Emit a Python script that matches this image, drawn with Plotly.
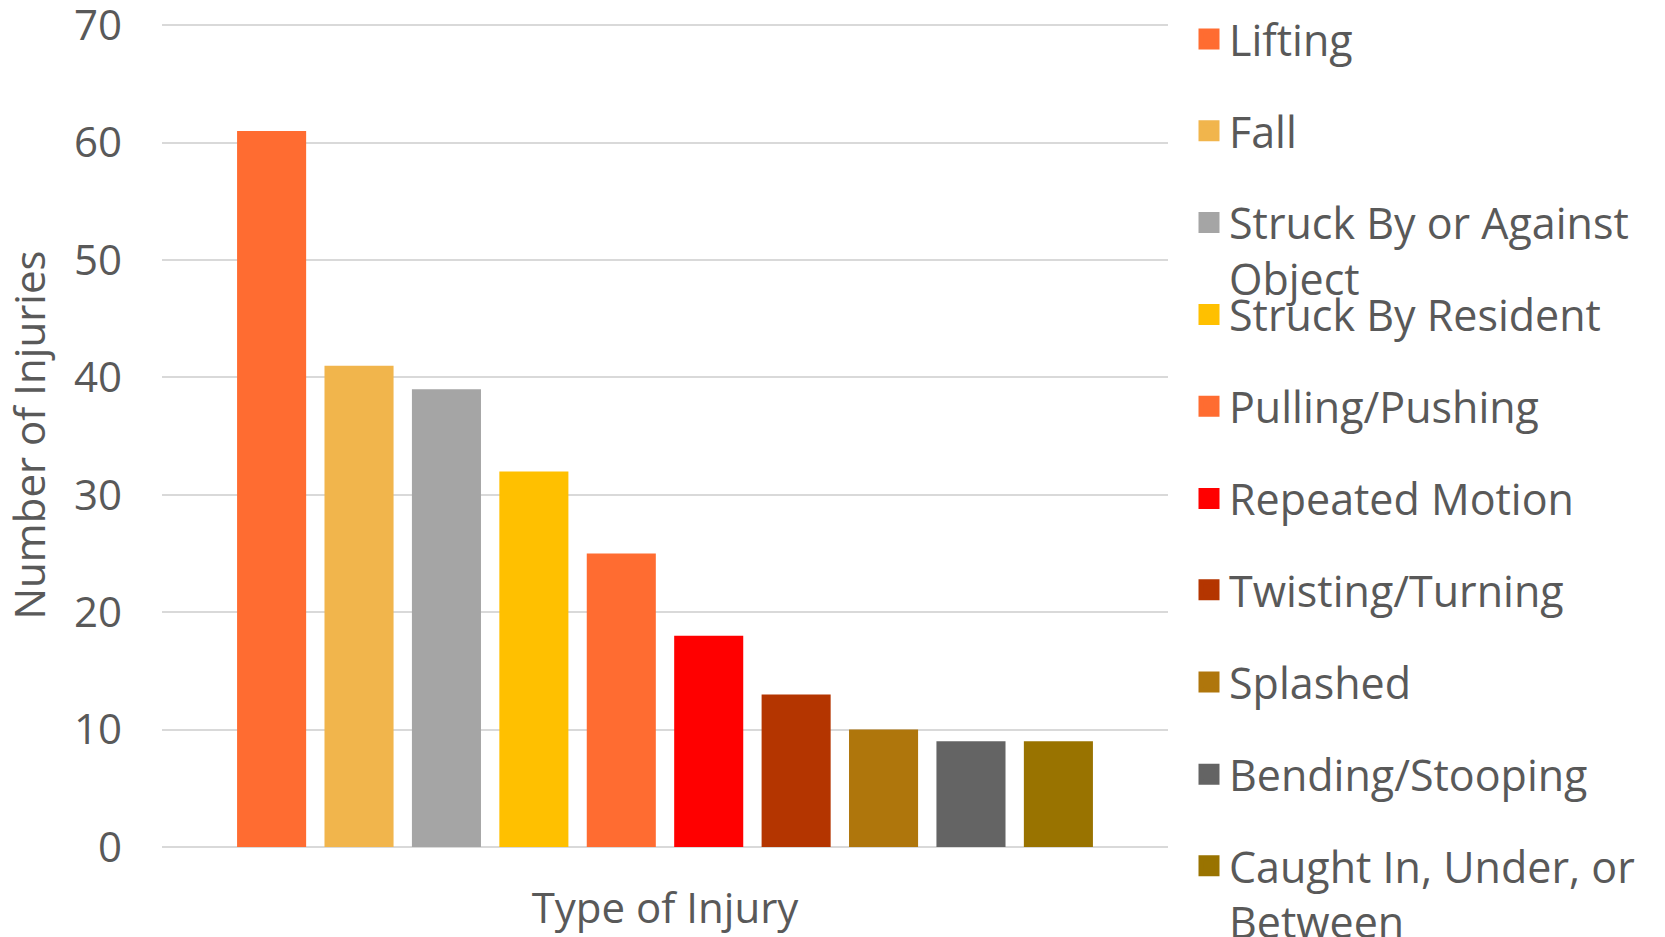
import plotly.graph_objects as go

categories = ["Lifting", "Fall", "Struck By or Against Object", "Struck By Resident",
              "Pulling/Pushing", "Repeated Motion", "Twisting/Turning", "Splashed",
              "Bending/Stooping", "Caught In, Under, or Between"]
legend_labels = ["Lifting", "Fall", "Struck By or Against<br>Object", "Struck By Resident",
                 "Pulling/Pushing", "Repeated Motion", "Twisting/Turning", "Splashed",
                 "Bending/Stooping", "Caught In, Under, or<br>Between"]
values = [61, 41, 39, 32, 25, 18, 13, 10, 9, 9]
colors = ["#FF6C31", "#F1B54C", "#A5A5A5", "#FFC000", "#FF6C31",
          "#FF0000", "#B43500", "#AF760C", "#646464", "#997300"]
x_category = "Type of Injury"
y_ticks = [0, 10, 20, 30, 40, 50, 60, 70]

W, H = 1665, 937
FONT = "Open Sans"
FS = 42
FS_LEG = 43
TXT = "#595959"

# legend symbol centres (pixels from top)
legend_centers = [39.5, 131.3, 223, 315, 406.7, 499, 590.3, 682.5, 774.7, 866.3]
LEG_OFF = 35
LEG_LEFT = 1189

fig = go.Figure()
for i, (name, v, c) in enumerate(zip(categories, values, colors)):
    fig.add_trace(go.Bar(x=[x_category], y=[v], name=name, marker=dict(color=c, line=dict(width=0)),
                         showlegend=False))
layout_legends = {}
for i, (lab, c) in enumerate(zip(legend_labels, colors)):
    key = "legend" if i == 0 else f"legend{i+1}"
    fig.add_trace(go.Scatter(x=[None], y=[None], mode="markers", name=lab,
                             marker=dict(symbol="square", size=16, color=c, line=dict(color=c, width=5)),
                             legend=key, showlegend=True))
    layout_legends[key] = dict(
        xref="container", yref="container",
        x=LEG_LEFT / W, xanchor="left",
        y=1 - (legend_centers[i] - LEG_OFF) / H, yanchor="top",
        font=dict(family=FONT, size=FS_LEG, color=TXT),
        bgcolor="rgba(0,0,0,0)", borderwidth=0,
        valign="top",
    )

Y_MAX = 70.2
fig.update_layout(
    width=W, height=H,
    margin=dict(l=162, r=W - 1168, t=25 - 0.2 * 11.75, b=90, autoexpand=False),
    paper_bgcolor="white", plot_bgcolor="white",
    barmode="group", bargap=0.131, bargroupgap=0.21,
    font=dict(family=FONT, size=FS, color=TXT),
    **layout_legends,
)
fig.update_xaxes(
    type="category", range=[-0.5, 0.5], showticklabels=False, showgrid=False,
    showline=False, zeroline=False, automargin=False,
    title=dict(text="Type of Injury", font=dict(family=FONT, size=FS, color=TXT), standoff=46),
)
fig.update_yaxes(
    range=[0, Y_MAX], tickvals=y_ticks, ticktext=[str(t) for t in y_ticks],
    showgrid=True, gridcolor="#D9D9D9", gridwidth=1.5,
    zeroline=True, zerolinecolor="#D9D9D9", zerolinewidth=1.5, showline=False,
    ticks="", ticklabelstandoff=39, ticklabeloverflow="allow", automargin=False,
    tickfont=dict(family=FONT, size=FS, color=TXT),
    title=dict(text="Number of Injuries", font=dict(family=FONT, size=FS, color=TXT), standoff=15),
)

fig.write_html("out.html", config={"displayModeBar": False},
               post_script="document.body.style.margin='0';")
